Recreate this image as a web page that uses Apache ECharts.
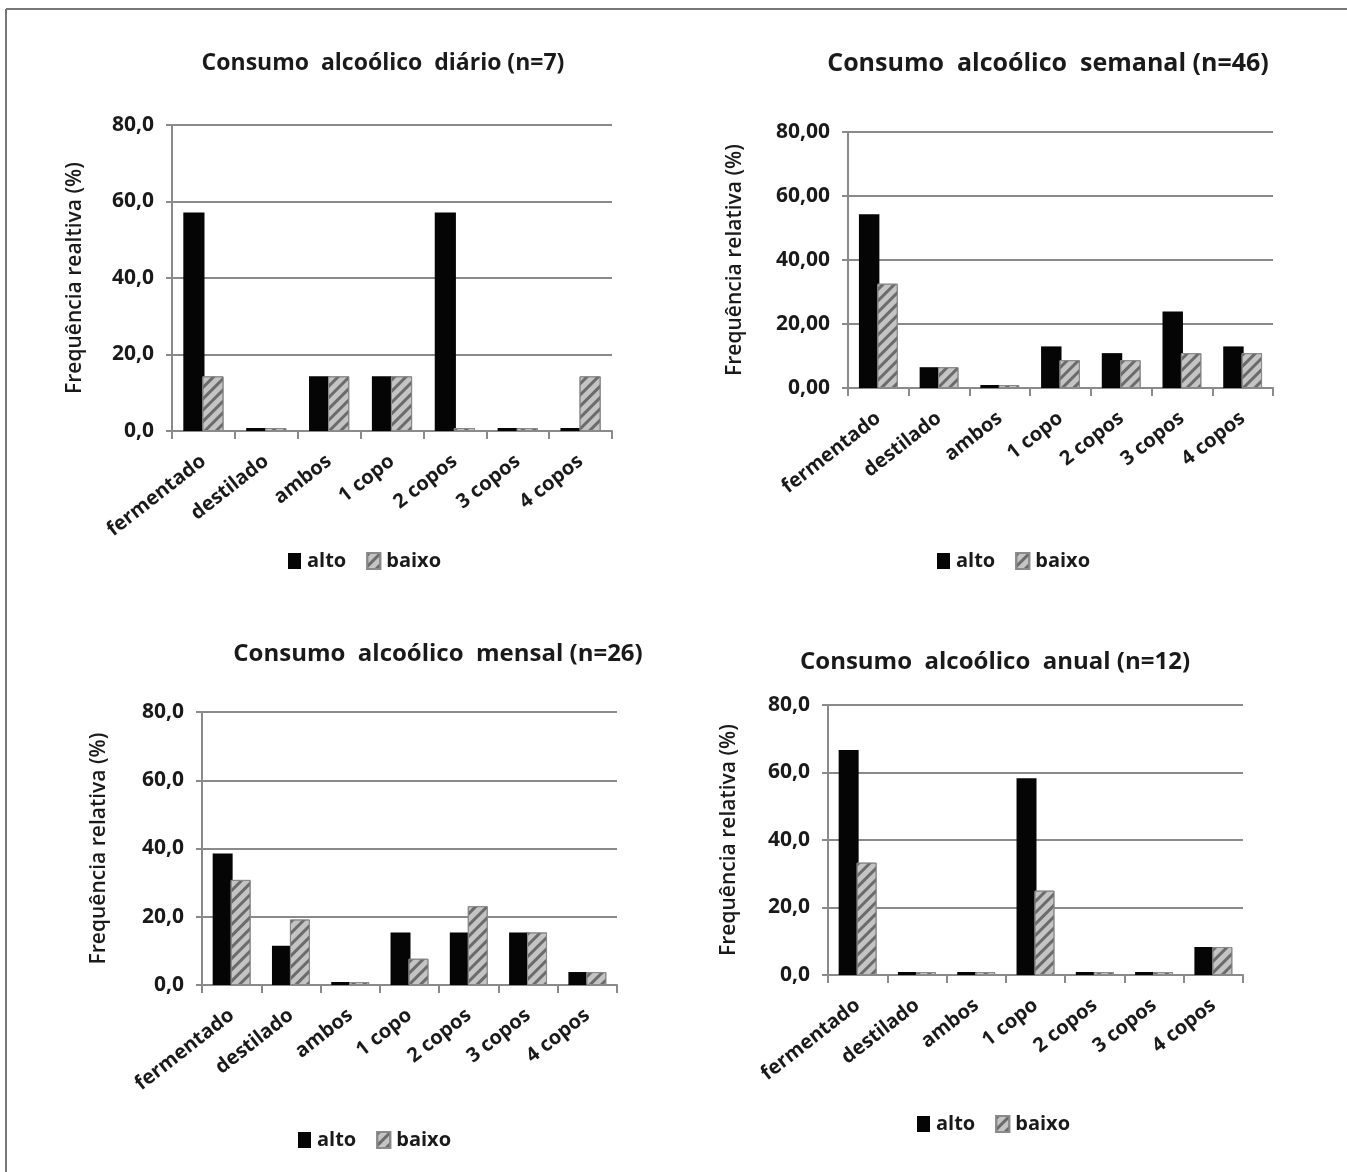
<!DOCTYPE html>
<html>
<head>
<meta charset="utf-8">
<script src="https://cdn.jsdelivr.net/npm/echarts@6/dist/echarts.min.js"></script>
<style>
  html, body { margin: 0; padding: 0; background: #fff; }
  #main { width: 1347px; height: 1172px; }
</style>
</head>
<body>
<div id="main"></div>
<script>
// categorias (eixo x, iguais nos 4 graficos)
var categorias = ['fermentado', 'destilado', 'ambos', '1 copo', '2 copos', '3 copos', '4 copos'];
var yTicks = [0, 20, 40, 60, 80];

// diario (n=7)
var diarioAlto  = [57.1, 0, 14.3, 14.3, 57.1, 0, 0];
var diarioBaixo = [14.3, 0, 14.3, 14.3, 0, 0, 14.3];
// semanal (n=46)
var semanalAlto  = [54.3, 6.5, 0, 13.0, 10.9, 23.9, 13.0];
var semanalBaixo = [32.6, 6.5, 0, 8.7, 8.7, 10.9, 10.9];
// mensal (n=26)
var mensalAlto  = [38.5, 11.5, 0, 15.4, 15.4, 15.4, 3.8];
var mensalBaixo = [30.8, 19.2, 0, 7.7, 23.1, 15.4, 3.8];
// anual (n=12)
var anualAlto  = [66.7, 0, 0, 58.3, 0, 0, 8.3];
var anualBaixo = [33.3, 0, 0, 25.0, 0, 0, 8.3];

var fonte = '"Open Sans", "DejaVu Sans", sans-serif';

var paineis = [
    {titulo: 'Consumo  alcoólico  diário (n=7)', tx: 378, ty: 47, tam: 23,
     grid: {left: 172, top: 125, width: 440, height: 306},
     nome: 'Frequência realtiva (%)', gap: 86, casas: 1,
     legX: 283, legY: 546, alto: diarioAlto, baixo: diarioBaixo},
    {titulo: 'Consumo  alcoólico  semanal (n=46)', tx: 1043, ty: 46, tam: 25,
     grid: {left: 848, top: 132, width: 425, height: 256},
     nome: 'Frequência relativa (%)', gap: 102, casas: 2,
     legX: 932, legY: 546, alto: semanalAlto, baixo: semanalBaixo},
    {titulo: 'Consumo  alcoólico  mensal (n=26)', tx: 433, ty: 637, tam: 24,
     grid: {left: 202, top: 712, width: 415, height: 273},
     nome: 'Frequência relativa (%)', gap: 92, casas: 1,
     legX: 293, legY: 1125, alto: mensalAlto, baixo: mensalBaixo},
    {titulo: 'Consumo  alcoólico  anual (n=12)', tx: 990, ty: 645, tam: 24,
     grid: {left: 828, top: 705, width: 415, height: 270},
     nome: 'Frequência relativa (%)', gap: 88, casas: 1,
     legX: 912, legY: 1109, alto: anualAlto, baixo: anualBaixo}
];

var listrado = {
    symbol: 'rect',
    symbolSize: 1,
    color: 'rgba(70,70,70,0.7)',
    dashArrayX: [1, 0],
    dashArrayY: [3, 5],
    rotation: -Math.PI / 4
};

var option = {
    backgroundColor: '#fff',
    animation: false,
    title: [], legend: [], grid: [], xAxis: [], yAxis: [], series: [],
    graphic: [
        {type: 'line', shape: {x1: 6, y1: 9, x2: 1347, y2: 9}, style: {stroke: '#777', lineWidth: 2}},
        {type: 'line', shape: {x1: 6, y1: 9, x2: 6, y2: 1172}, style: {stroke: '#777', lineWidth: 2}}
    ]
};

paineis.forEach(function (p, i) {
    option.title.push({
        text: p.titulo, left: p.tx, top: p.ty, textAlign: 'center',
        textStyle: {fontFamily: fonte, fontSize: p.tam, fontWeight: 'bold', color: '#1a1a1a'}
    });
    option.legend.push({
        left: p.legX, top: p.legY, itemWidth: 13, itemHeight: 16, itemGap: 20,
        icon: 'rect',
        textStyle: {fontFamily: fonte, fontSize: 20, fontWeight: 'bold', color: '#1a1a1a', padding: [0, 0, 0, 1]},
        data: ['alto', 'baixo'], selectedMode: false
    });
    option.grid.push(p.grid);
    option.xAxis.push({
        type: 'category', gridIndex: i, data: categorias,
        axisLine: {lineStyle: {color: '#8a8a8a', width: 2}},
        axisTick: {show: true, length: 8, lineStyle: {color: '#8a8a8a', width: 2}},
        axisLabel: {rotate: 38, interval: 0, margin: 28, fontFamily: fonte, fontSize: 20,
                    fontWeight: 'bold', color: '#1a1a1a'}
    });
    option.yAxis.push({
        type: 'value', gridIndex: i, min: yTicks[0], max: yTicks[yTicks.length - 1], interval: 20,
        name: p.nome, nameLocation: 'middle', nameRotate: 90, nameGap: p.gap,
        nameTextStyle: {fontFamily: fonte, fontSize: 21, fontWeight: 600, color: '#1a1a1a'},
        axisLine: {show: true, lineStyle: {color: '#8a8a8a', width: 2}},
        axisTick: {show: true, length: 6, lineStyle: {color: '#8a8a8a', width: 2}},
        splitLine: {lineStyle: {color: '#8a8a8a', width: 2}},
        axisLabel: {fontFamily: fonte, fontSize: 21, fontWeight: 'bold', color: '#1a1a1a', margin: 18,
                    formatter: function (v) { return v.toFixed(p.casas).replace('.', ','); }}
    });
    // barMinHeight: os zeros aparecem como uma placa fina, como no original
    option.series.push({
        name: 'alto', type: 'bar', xAxisIndex: i, yAxisIndex: i, data: p.alto,
        barGap: '-10%', barCategoryGap: '36%', barMinHeight: 3,
        itemStyle: {color: '#050505'}
    });
    option.series.push({
        name: 'baixo', type: 'bar', xAxisIndex: i, yAxisIndex: i, data: p.baixo,
        barGap: '-10%', barCategoryGap: '36%', barMinHeight: 3,
        itemStyle: {color: '#c4c4c4', borderColor: '#8a8a8a', borderWidth: 1, decal: listrado}
    });
});

var myChart = echarts.init(document.getElementById('main'));
myChart.setOption(option);
</script>
</body>
</html>
